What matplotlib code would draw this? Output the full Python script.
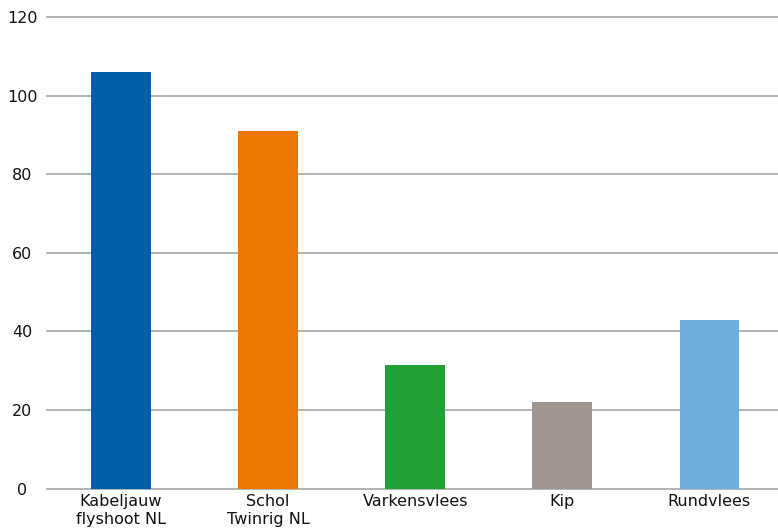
import matplotlib
matplotlib.use("Agg")
import matplotlib.pyplot as plt

categories = ["Kabeljauw\nflyshoot NL", "Schol\nTwinrig NL", "Varkensvlees", "Kip", "Rundvlees"]
values = [106, 91, 31.5, 22, 43]
colors = ["#005DA8", "#EC7703", "#21A035", "#A0958F", "#6CAEDC"]
yticks = [0, 20, 40, 60, 80, 100, 120]

plt.rcParams["font.family"] = ["DejaVu Sans"]

fig = plt.figure(figsize=(7.78, 5.30), dpi=100)
ax = fig.add_axes([47.4 / 778, 41.3 / 530, 735.5 / 778, 471.7 / 530])

x = range(len(categories))
ax.bar(x, values, width=0.405, color=colors, zorder=3)

ax.set_ylim(0, 120)
ax.set_xlim(-0.5, len(categories) - 0.5)
ax.set_yticks(yticks)
ax.set_yticklabels([str(t) for t in yticks], fontsize=11.5, color="#111111", ha="center")
ax.set_xticks(list(x))
ax.set_xticklabels(categories, fontsize=11.5, color="#111111", linespacing=1.25)

ax.grid(axis="y", color="#A6A6A6", linewidth=1.2, zorder=0)
for gl in ax.get_ygridlines():
    gl.set_clip_on(False)
ax.tick_params(axis="both", length=0)
ax.tick_params(axis="y", pad=18)
ax.tick_params(axis="x", pad=4)
for s in ax.spines.values():
    s.set_visible(False)

fig.savefig("out.png", dpi=100)
